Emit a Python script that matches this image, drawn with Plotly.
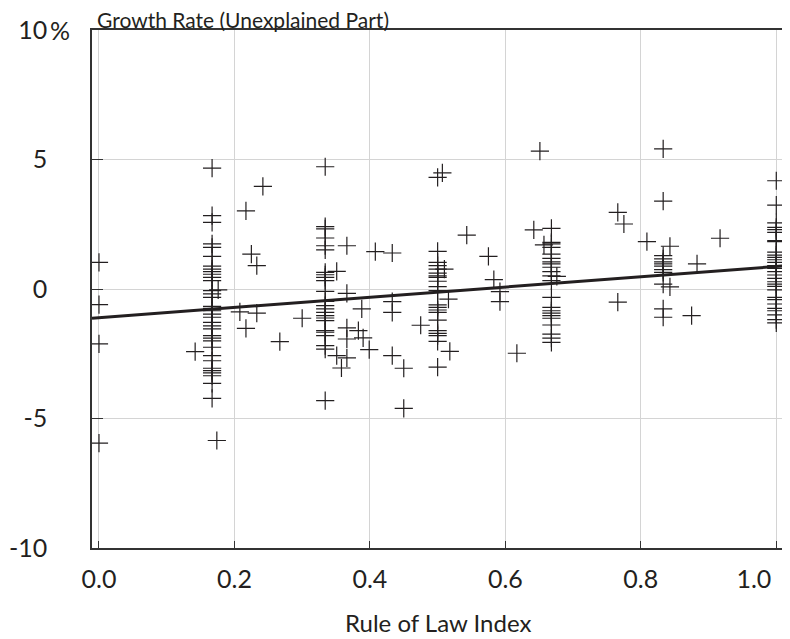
import plotly.graph_objects as go

# ---- data ----
col_0 = [1.03, -0.6, -2.12, -5.95]
col_1_6 = [4.67, 2.83, 2.57, 1.74, 1.61, 1.26, 0.88, 0.77, 0.67, 0.57, 0.45, 0.32,
           -0.06, -0.19, -0.32, -0.67, -0.75, -0.84, -0.97, -1.09, -1.29, -1.42,
           -1.54, -1.80, -1.90, -2.0, -2.25, -2.57, -2.77, -3.06, -3.15, -3.24,
           -3.35, -3.64, -4.22]
col_1_3 = [4.72, 2.41, 2.32, 1.97, 1.67, 1.51, 0.64, 0.55, 0.45, 0.32, -0.09, -0.48,
           -0.64, -0.77, -0.9, -1.03, -1.12, -1.22, -1.61, -1.67, -1.80, -2.19,
           -2.32, -4.31]
col_1_2 = [4.31, 1.45, 1.03, 0.9, 0.77, 0.61, 0.51, 0.45, 0.3, 0.09, -0.06, -0.61,
           -0.71, -0.81, -0.9, -1.2, -1.61, -1.71, -1.8, -2.02, -3.02]
col_2_3 = [2.34, 1.80, 1.74, 1.61, 1.35, 1.18, 1.05, 0.97, 0.84, 0.67, 0.51, 0.32,
           -0.32, -0.71, -0.84, -0.93, -1.03, -1.13, -1.39, -1.74, -1.90, -2.06]
col_5_6 = [5.41, 3.39, 1.29, 1.16, 1.05, 0.97, 0.88, 0.75, 0.64, 0.19, -0.77, -1.09]
col_1 = [4.18, 3.24, 2.55, 2.38, 2.29, 2.19, 1.87, 1.83, 1.42, 1.31, 1.22, 1.13,
         1.03, 0.9, 0.8, 0.67, 0.54, 0.41, 0.28, 0.19, 0.1, -0.03, -0.32, -0.41,
         -0.58, -0.75, -0.84, -1.0, -1.18, -1.31]
column_x = [0.0, 0.167, 0.334, 0.5, 0.668, 0.833, 1.0]

scatter_x = [0.142, 0.174, 0.176, 0.208, 0.217, 0.217, 0.225, 0.233, 0.233, 0.242,
             0.267, 0.300, 0.351, 0.351, 0.358, 0.366, 0.366, 0.366, 0.366, 0.366,
             0.383, 0.388, 0.390, 0.399, 0.408, 0.433, 0.433, 0.433, 0.433, 0.45,
             0.45, 0.475, 0.507, 0.51, 0.516, 0.518, 0.543, 0.575, 0.583, 0.592,
             0.592, 0.617, 0.642, 0.651, 0.657, 0.676, 0.766, 0.766, 0.775, 0.809,
             0.843, 0.843, 0.875, 0.883, 0.917]
scatter_y = [-2.42, -5.85, -0.03, -0.88, 3.02, -1.52, 1.35, 0.9, -0.93, 3.96,
             -2.03, -1.13, 0.68, -2.57, -3.05, 1.67, -0.17, -1.5, -1.93, -2.66,
             -1.61, -0.77, -1.89, -2.34, 1.44, 1.39, -0.49, -0.9, -2.57, -3.06,
             -4.61, -1.4, 4.48, 0.77, -0.39, -2.41, 2.08, 1.26, 0.36, -0.1,
             -0.49, -2.48, 2.28, 5.32, 1.70, 0.49, 2.96, -0.51, 2.51, 1.83,
             1.65, 0.08, -1.03, 0.97, 1.96]

fit_x = [-0.0103, 1.0114]
fit_y = [-1.13, 0.89]

NB = "\u00a0"
x_ticks = [0.0, 0.2, 0.4, 0.6, 0.8, 1.0]
x_ticktext = ["0.0", "0.2", "0.4", "0.6", "0.8", "1.0" + NB * 7]
y_ticks = [-10, -5, 0, 5, 10]
y_ticktext = ["-10", "-5", "0", "5", "10"]

# ---- assemble points ----
columns = [col_0, col_1_6, col_1_3, col_1_2, col_2_3, col_5_6, col_1]
px, py = [], []
for cx, vals in zip(column_x, columns):
    px += [cx] * len(vals)
    py += vals
px += scatter_x
py += scatter_y

FONT = "Lato"
INK = "#231f20"

fig = go.Figure()
fig.add_trace(go.Scatter(
    x=px, y=py, mode="markers",
    marker=dict(symbol="cross-thin", size=13, line=dict(width=1.2, color=INK), color=INK),
    showlegend=False, hoverinfo="skip"))
fig.add_trace(go.Scatter(
    x=fit_x, y=fit_y, mode="lines",
    line=dict(color=INK, width=3), showlegend=False, hoverinfo="skip"))

# page has an 8px body margin, so the figure is sized/offset to compensate
fig.update_layout(
    width=782, height=631,
    margin=dict(l=84, r=6, t=22, b=91, autoexpand=False),
    paper_bgcolor="white", plot_bgcolor="white",
    font=dict(family=FONT, color=INK, size=24),
    xaxis=dict(range=[-0.0103, 1.0114], tickvals=x_ticks, ticktext=x_ticktext,
               ticks="inside", ticklen=7, tickcolor="#333", tickwidth=1,
               showgrid=True, gridcolor="#d4d4d4", gridwidth=1,
               showline=True, linecolor="#333", linewidth=1.5, mirror=True,
               zeroline=False, tickfont=dict(size=25, family=FONT, color=INK),
               ticklabelstandoff=8, ticklabeloverflow="allow"),
    yaxis=dict(range=[-10, 10], tickvals=y_ticks, ticktext=y_ticktext,
               ticks="inside", ticklen=11, tickcolor="#333", tickwidth=1,
               showgrid=True, gridcolor="#d4d4d4", gridwidth=1,
               showline=True, linecolor="#333", linewidth=1.5, mirror=True,
               zeroline=False, tickfont=dict(size=25, family=FONT, color=INK),
               ticklabelstandoff=38, ticklabeloverflow="allow"),
)

fig.add_annotation(text="%", xref="paper", yref="y", x=-0.0615, y=10,
                   xanchor="left", yanchor="middle", showarrow=False,
                   font=dict(size=25, family=FONT, color=INK), borderpad=0)
fig.add_annotation(text="Growth Rate (Unexplained Part)", xref="paper", yref="paper",
                   x=0.006, y=1.0, xanchor="left", yanchor="bottom", showarrow=False,
                   font=dict(size=21, family=FONT, color=INK), borderpad=0, yshift=-3)
fig.add_annotation(text="Rule of Law Index", xref="paper", yref="paper",
                   x=0.5, y=-0.143, xanchor="center", yanchor="middle", showarrow=False,
                   font=dict(size=24, family=FONT, color=INK))

fig.write_html("out.html")
